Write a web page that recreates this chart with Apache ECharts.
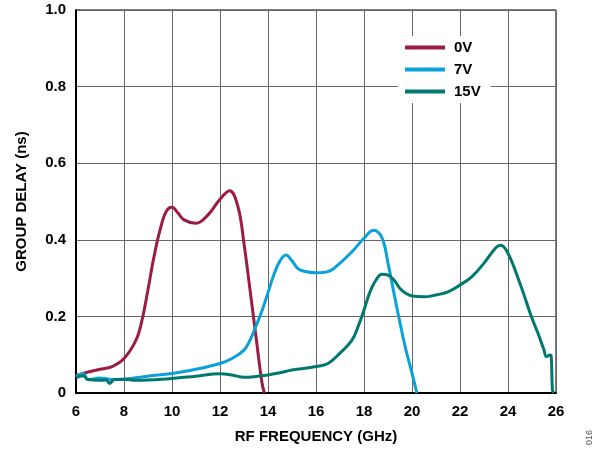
<!DOCTYPE html>
<html><head><meta charset="utf-8">
<script src="https://cdn.jsdelivr.net/npm/echarts@6/dist/echarts.min.js"></script>
<style>html,body{margin:0;padding:0;background:#fff}#c{width:602px;height:450px}</style>
</head><body><div id="c"></div>
<script>
const seriesNames = ['0V', '7V', '15V'];
const xTicks = [6, 8, 10, 12, 14, 16, 18, 20, 22, 24, 26];
const yTicks = [0, 0.2, 0.4, 0.6, 0.8, 1.0];

const f0V = [6, 6.5, 7, 7.5, 8, 8.5, 8.75, 9, 9.25, 9.5, 9.75, 10, 10.25, 10.5, 11, 11.5, 12, 12.4, 12.75, 13, 13.25, 13.5, 13.75, 13.85];
const v0V = [0.045, 0.055, 0.062, 0.069, 0.09, 0.138, 0.19, 0.27, 0.356, 0.425, 0.473, 0.485, 0.47, 0.452, 0.443, 0.465, 0.506, 0.528, 0.486, 0.39, 0.27, 0.147, 0.026, 0];

const f7V = [6, 6.3, 6.5, 7, 7.5, 8, 9, 10, 11, 12, 12.5, 13, 13.25, 13.5, 13.75, 14, 14.25, 14.5, 14.75, 15, 15.25, 15.5, 16, 16.5, 17, 17.5, 18, 18.4, 18.75, 19, 19.25, 19.5, 19.75, 20, 20.2];
const v7V = [0.043, 0.05, 0.035, 0.039, 0.035, 0.036, 0.044, 0.051, 0.062, 0.077, 0.09, 0.112, 0.138, 0.175, 0.215, 0.262, 0.31, 0.345, 0.36, 0.345, 0.325, 0.318, 0.314, 0.317, 0.339, 0.369, 0.404, 0.425, 0.405, 0.339, 0.26, 0.183, 0.112, 0.052, 0];

const f15V = [6, 6.3, 6.5, 7, 7.25, 7.4, 7.6, 8, 8.5, 9, 10, 11, 12, 12.5, 13, 13.5, 14, 14.5, 15, 15.5, 16, 16.5, 17, 17.5, 17.75, 18, 18.25, 18.5, 18.75, 19, 19.25, 19.5, 19.75, 20, 20.5, 21, 21.5, 22, 22.5, 23, 23.5, 23.7, 24, 24.5, 25, 25.25, 25.5, 25.6, 25.75, 25.8, 25.85, 25.9];
const v15V = [0.04, 0.045, 0.035, 0.033, 0.034, 0.025, 0.035, 0.036, 0.033, 0.034, 0.038, 0.044, 0.05, 0.047, 0.041, 0.043, 0.047, 0.053, 0.06, 0.064, 0.069, 0.077, 0.104, 0.138, 0.173, 0.217, 0.264, 0.295, 0.31, 0.308, 0.295, 0.273, 0.26, 0.253, 0.251, 0.256, 0.264, 0.282, 0.304, 0.339, 0.38, 0.386, 0.365, 0.286, 0.195, 0.156, 0.112, 0.095, 0.099, 0.097, 0.008, 0];

const colors = ['#9b1b45', '#0aa0d8', '#00786f'];
const xs = [f0V, f7V, f15V];
const ys = [v0V, v7V, v15V];

const chart = echarts.init(document.getElementById('c'), null, {renderer: 'canvas'});
const font = 'Liberation Sans, Arial, sans-serif';
chart.setOption({
  animation: false,
  backgroundColor: '#fff',
  grid: {left: 76, right: 46, top: 10, bottom: 57, show: true, borderColor: '#000', borderWidth: 1},
  legend: {
    orient: 'vertical', left: 398, top: 36,
    data: seriesNames.map(n => ({name: n, icon: 'rect'})),
    backgroundColor: '#fff', padding: [4, 10, 4, 7],
    itemWidth: 40, itemHeight: 4, itemGap: 7,
    textStyle: {fontFamily: font, fontWeight: 'bold', fontSize: 15, lineHeight: 15, color: '#000', padding: [0, 0, 0, 4]}
  },
  xAxis: {
    type: 'value', min: 6, max: 26, interval: 2,
    name: 'RF FREQUENCY (GHz)', nameLocation: 'middle', nameGap: 36,
    nameTextStyle: {fontFamily: font, fontWeight: 'bold', fontSize: 15, color: '#000'},
    axisLine: {show: true, onZero: false, lineStyle: {color: '#000', width: 2}},
    axisTick: {show: false},
    axisLabel: {fontFamily: font, fontWeight: 'bold', fontSize: 15, color: '#000', margin: 11,
      formatter: v => xTicks.includes(v) ? String(v) : ''},
    splitLine: {show: true, lineStyle: {color: '#666', width: 1}}
  },
  yAxis: {
    type: 'value', min: 0, max: 1, interval: 0.2,
    name: 'GROUP DELAY (ns)', nameLocation: 'middle', nameGap: 47,
    nameTextStyle: {fontFamily: font, fontWeight: 'bold', fontSize: 15, color: '#000'},
    axisLine: {show: true, lineStyle: {color: '#000', width: 2}},
    axisTick: {show: false},
    axisLabel: {fontFamily: font, fontWeight: 'bold', fontSize: 15, color: '#000', margin: 10,
      formatter: v => { const t = yTicks.find(y => Math.abs(y - v) < 1e-9); return t === undefined ? '' : (t === 0 ? '0' : t.toFixed(1)); }},
    splitLine: {show: true, lineStyle: {color: '#666', width: 1}}
  },
  series: seriesNames.map((n, i) => ({
    name: n, type: 'line', smooth: 0.4, showSymbol: false, symbol: 'none',
    lineStyle: {color: colors[i], width: 3}, itemStyle: {color: colors[i]},
    data: xs[i].map((x, k) => [x, ys[i][k]]), z: 3 + i
  })),
  graphic: [{
    type: 'text', left: 585, top: 430, rotation: Math.PI / 2,
    style: {text: '016', fontFamily: font, fontSize: 9, fill: '#555'}
  }]
});
</script></body></html>
